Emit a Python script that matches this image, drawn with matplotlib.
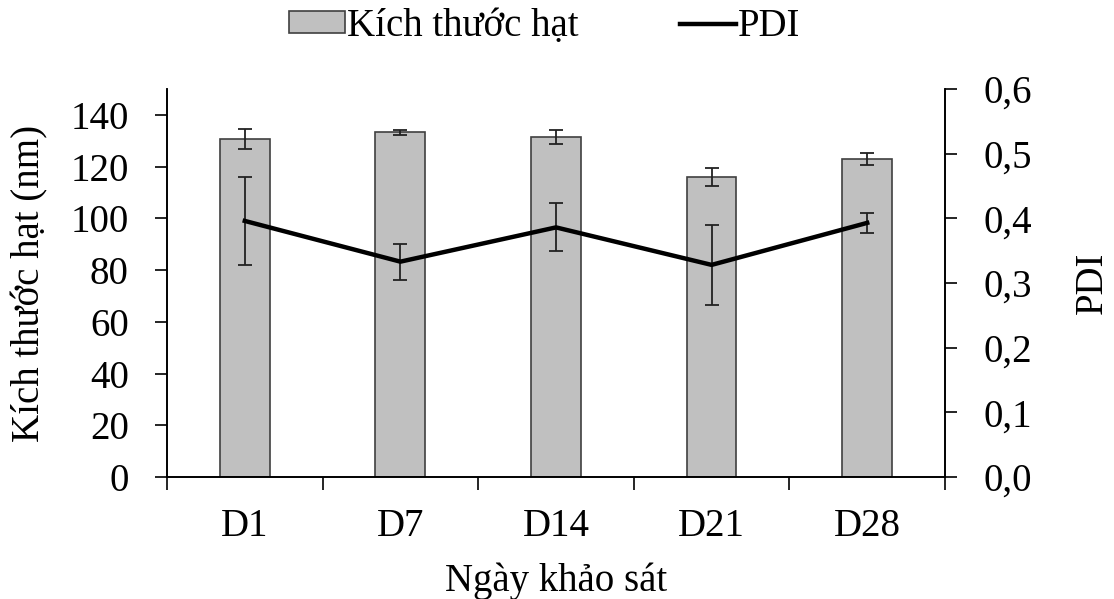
import matplotlib
matplotlib.use("Agg")
import matplotlib.pyplot as plt
from matplotlib.patches import Patch
from matplotlib.lines import Line2D

plt.rcParams['font.family'] = ['Liberation Serif', 'DejaVu Serif']

days = ["D1", "D7", "D14", "D21", "D28"]
size_nm = [130.7, 133.2, 131.5, 116.1, 122.9]
size_err = [3.7, 0.8, 2.8, 3.5, 2.2]
pdi = [0.396, 0.333, 0.386, 0.328, 0.393]
pdi_err = [0.068, 0.028, 0.037, 0.062, 0.015]

FS = 28

fig = plt.figure(figsize=(11.14, 5.99), dpi=100)
ax = fig.add_axes([0.1499, 0.2037, 0.6984, 0.6477])
ax2 = ax.twinx()

x = list(range(len(days)))
ax.bar(x, size_nm, width=0.32, color='#c0c0c0', edgecolor='#404040',
       linewidth=1.2, zorder=2)
ax.errorbar(x, size_nm, yerr=size_err, fmt='none', ecolor='#222222',
            elinewidth=1.3, capsize=4.8, capthick=1.3, zorder=3)

ax2.errorbar(x, pdi, yerr=pdi_err, fmt='none', ecolor='#222222',
             elinewidth=1.3, capsize=4.8, capthick=1.3, zorder=3)
ax2.plot(x, pdi, color='black', linewidth=3.2, zorder=4)

ax.set_xlim(-0.5, len(days) - 0.5)
ax.set_ylim(0, 150)
ax.set_yticks(range(0, 141, 20))
ax2.set_ylim(0, 0.6)
ax2.set_yticks([0.0, 0.1, 0.2, 0.3, 0.4, 0.5, 0.6])
ax2.set_yticklabels([f"{v:.1f}".replace('.', ',') for v in ax2.get_yticks()])

# category labels centred, tick marks at category boundaries
ax.set_xticks(x)
ax.set_xticklabels(days)
ax.set_xticks([i - 0.5 for i in range(len(days) + 1)], minor=True)
ax.tick_params(axis='x', which='major', length=0, pad=22, labelsize=FS)
ax.tick_params(axis='x', which='minor', length=9, width=1.2, direction='out')
ax.tick_params(axis='y', length=8.5, width=1.2, direction='out', labelsize=FS, pad=19)
ax2.tick_params(axis='y', length=8.5, width=1.2, direction='out', labelsize=FS, pad=19)

for a in (ax, ax2):
    a.spines['top'].set_visible(False)
    for s in ('left', 'right', 'bottom'):
        a.spines[s].set_linewidth(1.2)

ax.set_ylabel("Kích thước hạt (nm)", fontsize=FS, labelpad=16)
ax2.set_ylabel("PDI", fontsize=FS, labelpad=30)
ax.set_xlabel("Ngày khảo sát", fontsize=FS, labelpad=13)

handles = [Patch(facecolor='#c0c0c0', edgecolor='#404040', linewidth=1.2),
           Line2D([0], [0], color='black', linewidth=3.2)]
fig.legend(handles, ["Kích thước hạt", "PDI"], loc='upper center',
           bbox_to_anchor=(0.489, 1.045), ncol=2, frameon=False, fontsize=28,
           handlelength=1.45, handleheight=0.5, handletextpad=0.05,
           columnspacing=2.6)

fig.savefig("out.png", dpi=100)
